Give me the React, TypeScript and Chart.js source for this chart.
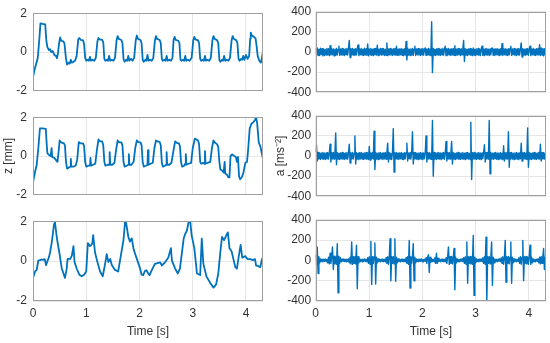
import React, { useEffect, useRef } from "react";
import { Chart, registerables } from "chart.js";

Chart.register(...registerables);

// ---------- axes ----------
const timeTicks = [0, 1, 2, 3, 4];
const zTicks = [-2, 0, 2];
const aTicks = [-400, -200, 0, 200, 400];
const T_MAX = 4.32;
const SAMPLE_DT = 0.015; // sample interval of the acceleration records [s]

// ---------- displacement z [mm], top ----------
const tZTop = [
  0.00, 0.03, 0.07, 0.09, 0.12, 0.14, 0.18, 0.23, 0.25, 0.27,
  0.30, 0.32, 0.34, 0.37, 0.40, 0.43, 0.45, 0.47, 0.49, 0.51,
  0.53, 0.57, 0.59, 0.62, 0.64, 0.67, 0.69, 0.71, 0.73, 0.76,
  0.79, 0.82, 0.85, 0.87, 0.90, 0.94, 0.96, 0.98, 1.00, 1.03,
  1.05, 1.07, 1.09, 1.12, 1.15, 1.18, 1.21, 1.23, 1.25, 1.30,
  1.32, 1.34, 1.36, 1.39, 1.41, 1.43, 1.45, 1.48, 1.51, 1.54,
  1.57, 1.59, 1.61, 1.66, 1.68, 1.70, 1.72, 1.75, 1.77, 1.79,
  1.81, 1.84, 1.87, 1.90, 1.93, 1.95, 1.97, 2.02, 2.04, 2.06,
  2.08, 2.11, 2.13, 2.15, 2.17, 2.20, 2.23, 2.26, 2.29, 2.31,
  2.33, 2.38, 2.40, 2.42, 2.44, 2.47, 2.49, 2.51, 2.53, 2.56,
  2.59, 2.62, 2.64, 2.66, 2.68, 2.73, 2.75, 2.77, 2.79, 2.82,
  2.84, 2.86, 2.88, 2.91, 2.94, 2.98, 3.01, 3.03, 3.05, 3.10,
  3.12, 3.14, 3.16, 3.19, 3.21, 3.23, 3.25, 3.28, 3.31, 3.34,
  3.37, 3.39, 3.41, 3.46, 3.48, 3.50, 3.52, 3.55, 3.57, 3.59,
  3.61, 3.64, 3.67, 3.70, 3.73, 3.75, 3.77, 3.82, 3.84, 3.86,
  3.88, 3.91, 3.93, 3.95, 3.97, 4.00, 4.03, 4.06, 4.08, 4.09,
  4.11, 4.15, 4.18, 4.20, 4.22, 4.25, 4.28, 4.30, 4.32,
];
const zTop = [
  -1.30, -0.90, -0.50, -0.30, 0.70, 1.48, 1.45, 1.42, 0.60, 0.25,
  0.10, 0.15, 0.00, 0.05, -0.15, -0.20, -0.32, -0.05, 0.45, 0.75,
  0.58, 0.55, 0.45, -0.35, -0.65, -0.55, -0.60, -0.40, -0.55, -0.50,
  -0.45, -0.20, 0.65, 0.72, 0.62, 0.60, 0.40, -0.30, -0.45, -0.40,
  -0.45, -0.25, -0.45, -0.40, -0.45, -0.30, 0.55, 0.72, 0.65, 0.62,
  0.50, -0.35, -0.45, -0.40, -0.45, -0.20, -0.45, -0.40, -0.45, -0.30,
  0.60, 0.82, 0.68, 0.62, 0.45, -0.35, -0.50, -0.40, -0.45, -0.20,
  -0.45, -0.35, -0.45, -0.30, 0.60, 0.85, 0.68, 0.62, 0.45, -0.40,
  -0.50, -0.40, -0.45, -0.15, -0.45, -0.40, -0.45, -0.30, 0.60, 0.82,
  0.68, 0.62, 0.45, -0.35, -0.45, -0.40, -0.45, -0.20, -0.45, -0.40,
  -0.45, -0.30, 0.60, 0.78, 0.62, 0.58, 0.45, -0.40, -0.45, -0.40,
  -0.45, -0.20, -0.45, -0.40, -0.45, -0.30, 0.60, 0.78, 0.65, 0.60,
  0.45, -0.35, -0.45, -0.40, -0.45, -0.20, -0.45, -0.40, -0.45, -0.30,
  0.60, 0.82, 0.68, 0.60, 0.45, -0.40, -0.50, -0.40, -0.45, -0.20,
  -0.45, -0.40, -0.45, -0.30, 0.60, 0.82, 0.68, 0.60, 0.45, -0.35,
  -0.45, -0.35, -0.40, -0.20, -0.40, -0.15, -0.35, -0.20, 0.70, 1.00,
  0.85, 0.78, 0.70, 0.30, -0.20, -0.45, -0.55, -0.30, 0.05,
];

// ---------- displacement z [mm], middle ----------
const tZMid = [
  0.00, 0.04, 0.07, 0.10, 0.13, 0.18, 0.24, 0.26, 0.27, 0.30,
  0.33, 0.35, 0.36, 0.40, 0.43, 0.46, 0.48, 0.50, 0.53, 0.58,
  0.60, 0.62, 0.64, 0.67, 0.70, 0.71, 0.72, 0.76, 0.80, 0.83,
  0.86, 0.89, 0.94, 0.96, 0.98, 1.00, 1.04, 1.07, 1.08, 1.09,
  1.13, 1.17, 1.20, 1.23, 1.26, 1.30, 1.32, 1.34, 1.36, 1.40,
  1.43, 1.44, 1.45, 1.49, 1.53, 1.56, 1.59, 1.62, 1.66, 1.68,
  1.70, 1.72, 1.76, 1.79, 1.80, 1.81, 1.85, 1.89, 1.92, 1.95,
  1.98, 2.02, 2.04, 2.06, 2.08, 2.12, 2.15, 2.16, 2.17, 2.21,
  2.25, 2.28, 2.31, 2.34, 2.38, 2.40, 2.42, 2.44, 2.48, 2.50,
  2.51, 2.52, 2.56, 2.60, 2.64, 2.67, 2.70, 2.74, 2.76, 2.78,
  2.80, 2.84, 2.86, 2.87, 2.88, 2.92, 2.97, 3.00, 3.04, 3.07,
  3.10, 3.12, 3.14, 3.16, 3.20, 3.22, 3.23, 3.24, 3.28, 3.33,
  3.36, 3.39, 3.42, 3.46, 3.48, 3.50, 3.52, 3.55, 3.58, 3.60,
  3.61, 3.64, 3.67, 3.69, 3.71, 3.74, 3.78, 3.81, 3.83, 3.85,
  3.87, 3.89, 3.92, 3.95, 3.97, 3.99, 4.02, 4.04, 4.07, 4.10,
  4.14, 4.17, 4.19, 4.21, 4.24, 4.27, 4.30, 4.32,
];
const zMid = [
  -1.36, -0.80, -0.45, 0.40, 1.42, 1.42, 1.40, 0.50, 0.15, 0.05,
  0.00, 0.40, -0.05, -0.10, -0.20, -0.30, 0.20, 0.80, 0.70, 0.65,
  0.55, -0.30, -0.65, -0.60, -0.55, -0.15, -0.55, -0.55, -0.50, -0.20,
  0.72, 0.65, 0.65, 0.50, -0.30, -0.55, -0.50, -0.50, -0.10, -0.50,
  -0.45, -0.40, 0.30, 0.85, 0.75, 0.75, 0.55, -0.30, -0.50, -0.45,
  -0.45, 0.20, -0.45, -0.45, -0.35, 0.30, 0.80, 0.70, 0.70, 0.55,
  -0.30, -0.55, -0.50, -0.45, 0.10, -0.45, -0.45, -0.30, 0.40, 0.80,
  0.72, 0.70, 0.55, -0.30, -0.55, -0.50, -0.45, 0.30, -0.45, -0.40,
  -0.35, 0.40, 0.80, 0.75, 0.72, 0.55, -0.35, -0.55, -0.50, -0.45,
  0.20, -0.45, -0.45, -0.35, 0.30, 0.75, 0.68, 0.65, 0.50, -0.30,
  -0.55, -0.50, -0.40, 0.10, -0.45, -0.40, -0.35, 0.40, 0.90, 0.85,
  0.80, 0.60, -0.30, -0.40, -0.35, -0.40, 0.25, -0.40, -0.35, -0.30,
  0.40, 0.80, 0.68, 0.60, 0.45, -0.30, -0.70, -0.75, -0.85, -0.30,
  -0.90, -0.95, -1.10, -1.10, 0.00, 0.08, 0.00, -0.05, -0.30, -0.05,
  -1.05, -1.20, -1.10, -0.90, -0.60, -0.35, -0.30, 0.30, 1.40, 1.65,
  1.75, 1.85, 2.00, 1.70, 0.70, 0.50, 0.10, -0.15,
];

// ---------- displacement z [mm], bottom ----------
const tZBot = [
  0.00, 0.04, 0.07, 0.10, 0.13, 0.16, 0.19, 0.22, 0.245, 0.275,
  0.30, 0.32, 0.35, 0.375, 0.395, 0.41, 0.445, 0.47, 0.495, 0.54,
  0.57, 0.60, 0.63, 0.65, 0.70, 0.73, 0.76, 0.78, 0.82, 0.87,
  0.915, 0.96, 1.00, 1.03, 1.07, 1.095, 1.115, 1.13, 1.165, 1.21,
  1.26, 1.31, 1.35, 1.385, 1.415, 1.45, 1.48, 1.54, 1.60, 1.65,
  1.70, 1.73, 1.75, 1.79, 1.82, 1.855, 1.89, 1.95, 2.01, 2.04,
  2.07, 2.10, 2.13, 2.16, 2.19, 2.24, 2.29, 2.34, 2.39, 2.42,
  2.48, 2.54, 2.59, 2.61, 2.67, 2.72, 2.76, 2.83, 2.86, 2.89,
  2.92, 2.95, 2.98, 3.03, 3.08, 3.14, 3.17, 3.20, 3.26, 3.33,
  3.39, 3.44, 3.48, 3.52, 3.55, 3.59, 3.63, 3.66, 3.69, 3.73,
  3.80, 3.83, 3.87, 3.90, 3.93, 3.985, 4.03, 4.08, 4.13, 4.17,
  4.19, 4.23, 4.27, 4.30, 4.32,
];
const zBot = [
  -0.84, -0.52, -0.44, 0.03, 0.05, 0.08, 0.06, 0.10, -0.20, 0.03,
  0.20, 0.43, 0.90, 1.40, 1.86, 2.00, 1.22, 0.80, 0.43, -0.37,
  -0.60, -0.84, -0.44, 0.11, 0.11, 0.27, 0.75, -0.05, -0.37, -0.68,
  -0.76, -0.68, -0.52, 0.90, 0.75, 0.80, 0.90, 1.30, 0.43, -0.05,
  -0.52, -0.76, -0.20, 0.35, -0.05, 0.11, -0.20, -0.44, -0.52, 0.27,
  1.06, 2.00, 1.90, 1.22, 0.98, 1.14, 0.59, 0.11, -0.35, -0.68,
  -0.70, -0.50, -0.46, -0.60, -0.70, -0.40, -0.14, -0.10, -0.06, -0.22,
  -0.06, 0.17, 0.65, 0.02, -0.38, -0.62, -0.38, 1.13, 1.37, 1.52,
  1.92, 2.08, 1.29, 0.65, -0.62, -0.70, 1.13, -0.14, -0.78, -1.10,
  -1.33, -1.17, -0.62, 0.49, 1.21, 1.05, 1.29, 1.44, 0.65, 0.49,
  -0.30, -0.38, 0.33, 0.81, 0.17, 0.25, 0.10, 0.10, 0.05, 0.10,
  -0.22, -0.25, -0.30, 0.10, 0.17,
];

// ---------- acceleration a [m/s^2], one value every SAMPLE_DT ----------
const aTop = [
  35, -30, 40, -35, 28, -32, 38, -26, 33, -38,
  30, -35, 26, -30, 36, -28, 32, -36, 63, -30,
  34, -27, 30, -38, 28, -33, 36, -30, 25, 57,
  -34, 30, -28, 36, -32, 27, -35, 31, -26, 34,
  -30, 38, 115, -55, 33, -29, 36, -31, 27, -35,
  32, -28, 35, 70, -36, 30, -27, 34, -31, 28,
  -35, 37, -29, 32, -33, 80, -38, 30, -27, 35,
  -32, 28, -36, 33, -29, 35, -30, 67, -34, 29,
  -27, 36, -31, 34, -28, 30, -35, 27, -32, 90,
  -36, 31, -28, 35, -30, 26, -34, 32, -29, 36,
  -31, 57, -33, 28, -35, 30, -27, 34, -32, 29,
  -36, 33, -30, 105, -80, 35, -31, 27, -34, 30,
  -28, 36, -33, 29, 57, -35, 31, -27, 34, -30,
  28, -35, 32, -29, 36, -31, 27, 41, -33, 30,
  -28, 35, -32, 29, -36, 300, -205, 34, -30, 27,
  -35, 31, -28, 36, -32, 29, -34, 30, -27, 35,
  -31, 28, 57, -36, 32, -29, 35, -30, 27, -34,
  31, -28, 36, -33, 63, -35, 29, -31, 34, -27,
  30, -36, 32, -29, 35, 115, -95, 33, -30, 28,
  -35, 31, -27, 34, -32, 29, -36, 40, -31, 28,
  -34, 30, -27, 35, -32, 29, -35, 31, 57, -33,
  28, -36, 32, -29, 34, -30, 27, -35, 31, -28,
  36, 40, -33, 29, -35, 31, -27, 34, -30, 28,
  -36, 32, -29, 83, -35, 30, -27, 34, -31, 28,
  -35, 32, -29, 36, 57, -33, 30, -27, 35, -31,
  28, -36, 32, -29, 35, -30, 27, 90, -50, 33,
  -30, 28, -35, 31, -27, 34, -32, 29, 57, -36,
  30, -27, 35, -31, 28, -34, 32, -29, 36, -30,
  73, -35, 40, -30, 35, -38, 32, -28, 35,
];
const aMid = [
  40, 110, -50, 35, -30, 28, -34, 31, -27, 36,
  -32, 29, -35, 30, -28, 34, -31, 27, 118, -60,
  33, -29, 36, -31, 28, 230, -86, 34, -30, 27,
  -35, 31, -28, 36, -32, 29, -34, 30, -27, 35,
  -31, 28, 118, -70, 32, -29, 35, -30, 27, 200,
  -80, 34, -31, 28, -36, 32, -29, 35, -30, 27,
  -34, 31, -28, 36, -32, 29, -35, 96, -40, 31,
  -27, 34, -30, 246, -134, 35, -31, 28, -36, 32,
  -29, 35, -30, 27, -34, 31, -28, 36, -32, 29,
  128, -60, 34, -30, 27, -35, 31, 272, -160, 33,
  -29, 36, -31, 28, -34, 30, -27, 35, -32, 29,
  -36, 32, -28, 34, 128, -50, 30, -27, 35, -31,
  28, 240, -80, 33, -29, 36, -31, 27, -34, 30,
  -28, 35, -32, 29, -36, 31, -27, 34, 200, -60,
  32, -29, 35, -30, 28, -34, 352, -200, 36, -31,
  27, -35, 32, -28, 34, -30, 29, -36, 31, -27,
  35, -32, 28, 144, -50, 33, -29, 36, -31, 27,
  144, -80, 34, -30, 28, -35, 31, -27, 36, -32,
  29, -34, 30, -28, 35, -31, 27, -36, 32, -29,
  34, -30, 28, -35, 336, -234, 33, -29, 36, -31,
  27, -34, 30, -28, 35, -32, 29, -36, 31, -27,
  34, 112, -60, 33, -29, 36, -31, 352, -176, 35,
  -30, 28, -34, 31, -27, 36, -32, 29, -35, 30,
  -28, 34, -31, 27, -36, 102, -50, 32, -29, 35,
  -30, 240, -112, 33, -29, 36, -31, 27, -34, 30,
  -28, 35, -32, 29, -36, 31, -27, 128, -50, 33,
  -29, 36, -31, 28, -34, 278, -112, 35, -30, 27,
  -35, 31, -28, 36, -32, 29, -34, 30, -27, 35,
  -31, 118, -50, 33, -29, 36, -31, 28, -35,
];
const aBot = [
  55, -40, 130, -130, 35, -25, 15, -12, 10, -14,
  12, -10, 14, -12, 10, -25, 30, -35, 70, -30,
  35, 133, -90, 40, -35, 30, -38, 165, -320, 40,
  -30, 25, -15, 12, -10, 14, -12, 10, -15, 12,
  -10, 15, -25, 30, -35, 180, -40, 35, -30, 38,
  -35, 150, -280, 35, -25, 15, -12, 10, -14, 12,
  -10, 14, -12, 10, -15, 25, -30, 35, -38, 187,
  -238, 35, -30, 38, 170, -232, 30, -25, 15, -12,
  10, -14, 12, -10, 15, -12, 10, -14, 25, -30,
  35, -38, 30, 212, -200, 35, -30, 38, -35, 212,
  -206, 30, -25, 15, -12, 10, -14, 12, -10, 15,
  -12, 10, -15, 25, -30, 35, -38, 197, -273, 35,
  -30, 38, 165, -200, 30, -25, 15, -12, 10, -14,
  12, -10, 15, -12, 10, -14, 12, -10, 25, -30,
  30, 55, -120, 30, -20, 15, -12, 10, -14, 25,
  -30, 70, -30, 20, -12, 10, -14, 12, -10, 15,
  -12, 10, -15, 25, -30, 35, 133, -40, 35, -30,
  38, -35, 30, 117, -290, 30, -25, 15, -12, 10,
  -14, 12, -10, 15, -12, 25, -30, 35, -38, 180,
  -225, 35, -30, 38, -35, 30, -38, 245, -345, 30,
  -25, 15, -12, 10, -14, 12, -10, 15, -12, 25,
  -30, 35, -38, 228, -405, 35, -30, 38, -35, 30,
  180, -248, 30, -25, 15, -12, 10, -14, 12, -10,
  15, -12, 25, -30, 35, -38, 30, 197, -216, 35,
  -30, 38, -35, 30, 180, -225, 30, -25, 15, -12,
  10, -14, 12, -10, 25, -30, 35, -38, 30, 197,
  -200, 35, -30, 38, -35, 30, -38, 35, 150, -40,
  30, -25, 15, -12, 10, -14, 12, -10, 15, -25,
  30, -35, 38, -30, 35, 117, -90, 30, -25,
];

// ---------- styling ----------
const FONT = "'Liberation Sans', Arial, Helvetica, sans-serif";
const LINE = "#0072BD";
const GRID = "#e6e6e6";
const BOX = "#a0a0a0";
const TEXT = "#333333";

const boxPlugin = {
  id: "axesBox",
  afterDraw(chart: any) {
    const { ctx, chartArea } = chart;
    const l = Math.round(chartArea.left) + 0.5;
    const t = Math.round(chartArea.top) + 0.5;
    const r = Math.round(chartArea.right) - 0.5;
    const b = Math.round(chartArea.bottom) - 0.5;
    ctx.save();
    ctx.strokeStyle = BOX;
    ctx.lineWidth = 1;
    ctx.strokeRect(l, t, r - l, b - t);
    ctx.restore();
  },
};

type PanelSpec = {
  left: number;
  top: number;
  width: number;
  height: number;
  pad: { top: number; right: number; bottom: number; left: number };
  yWidth: number;
  xHeight: number;
  showX: boolean;
  yTitle: string;
  yTitlePad: number;
  yTickPad: number;
  yMin: number;
  yMax: number;
  yTicks: number[];
  xs: number[];
  ys: number[];
  lineWidth: number;
};

function Panel({ spec }: { spec: PanelSpec }) {
  const ref = useRef<HTMLCanvasElement | null>(null);
  useEffect(() => {
    const canvas = ref.current;
    if (!canvas) return;
    const data = spec.xs.map((x, i) => ({ x, y: spec.ys[i] }));
    const chart = new Chart(canvas, {
      type: "line",
      data: {
        datasets: [
          {
            data,
            borderColor: LINE,
            borderWidth: spec.lineWidth,
            pointRadius: 0,
            tension: 0,
            fill: false,
            borderJoinStyle: "round",
          },
        ],
      },
      options: {
        animation: false,
        responsive: false,
        devicePixelRatio: 1,
        events: [],
        layout: { padding: spec.pad },
        plugins: {
          legend: { display: false },
          tooltip: { enabled: false },
        },
        scales: {
          x: {
            type: "linear",
            min: 0,
            max: T_MAX,
            afterBuildTicks: (s: any) => {
              s.ticks = timeTicks.map((v) => ({ value: v }));
            },
            afterFit: (s: any) => {
              s.height = spec.xHeight;
            },
            grid: { color: GRID, drawTicks: false, lineWidth: 1 },
            border: { display: false },
            ticks: {
              display: spec.showX,
              padding: 5,
              color: TEXT,
              font: { family: FONT, size: 12 },
              maxRotation: 0,
              autoSkip: false,
            },
            title: {
              display: spec.showX,
              text: "Time [s]",
              color: TEXT,
              font: { family: FONT, size: 12 },
              padding: { top: 0, bottom: 4.5 },
            },
          },
          y: {
            type: "linear",
            min: spec.yMin,
            max: spec.yMax,
            afterBuildTicks: (s: any) => {
              s.ticks = spec.yTicks.map((v) => ({ value: v }));
            },
            afterFit: (s: any) => {
              s.width = spec.yWidth;
            },
            grid: { color: GRID, drawTicks: false, lineWidth: 1 },
            border: { display: false },
            ticks: {
              padding: spec.yTickPad,
              color: TEXT,
              font: { family: FONT, size: 12 },
              autoSkip: false,
            },
            title: {
              display: spec.yTitle !== "",
              text: spec.yTitle,
              color: TEXT,
              font: { family: FONT, size: 12 },
              padding: { top: spec.yTitlePad, bottom: 0 },
            },
          },
        },
      },
      plugins: [boxPlugin],
    } as any);
    return () => chart.destroy();
  }, [spec]);
  return (
    <div
      style={{
        position: "absolute",
        left: spec.left,
        top: spec.top,
        width: spec.width,
        height: spec.height,
      }}
    >
      <canvas
        ref={ref}
        width={spec.width}
        height={spec.height}
        style={{ display: "block", width: spec.width, height: spec.height }}
      />
    </div>
  );
}

const sampleTimes = (n: number) => Array.from({ length: n }, (_, i) => i * SAMPLE_DT);

const rows = [
  { top: 0, height: 104, pad: { top: 9, bottom: 11.3 }, xHeight: 0, showX: false },
  { top: 104, height: 104, pad: { top: 9.2, bottom: 11.2 }, xHeight: 0, showX: false },
  { top: 208, height: 135, pad: { top: 9.2, bottom: 0 }, xHeight: 42, showX: true },
];

const leftSeries = [
  { xs: tZTop, ys: zTop, title: "" },
  { xs: tZMid, ys: zMid, title: "z [mm]" },
  { xs: tZBot, ys: zBot, title: "" },
];
const rightSeries = [
  { ys: aTop, title: "" },
  { ys: aMid, title: "a [ms\u207B\u00B2]" },
  { ys: aBot, title: "" },
];

const specs: PanelSpec[] = [];
rows.forEach((row, i) => {
  specs.push({
    left: 0,
    top: row.top,
    width: 275,
    height: row.height,
    pad: { top: row.pad.top, bottom: row.pad.bottom, left: 0, right: 12 },
    yWidth: 33,
    xHeight: row.xHeight,
    showX: row.showX,
    yTitle: leftSeries[i].title,
    yTitlePad: 1.5,
    yTickPad: 6,
    yMin: -2,
    yMax: 2,
    yTicks: zTicks,
    xs: leftSeries[i].xs,
    ys: leftSeries[i].ys,
    lineWidth: 1.8,
  });
  specs.push({
    left: 272,
    top: row.top,
    width: 278,
    height: row.height,
    pad: { top: row.pad.top, bottom: row.pad.bottom, left: 0, right: 4 },
    yWidth: 43.7,
    xHeight: row.xHeight,
    showX: row.showX,
    yTitle: rightSeries[i].title,
    yTitlePad: 1.3,
    yTickPad: 4.5,
    yMin: -400,
    yMax: 400,
    yTicks: aTicks,
    xs: sampleTimes(rightSeries[i].ys.length),
    ys: rightSeries[i].ys,
    lineWidth: 1.4,
  });
});

export default function App() {
  return (
    <div
      style={{
        position: "fixed",
        left: 0,
        top: 0,
        width: 550,
        height: 343,
        background: "#ffffff",
        overflow: "hidden",
      }}
    >
      {specs.map((s, i) => (
        <Panel key={i} spec={s} />
      ))}
    </div>
  );
}
